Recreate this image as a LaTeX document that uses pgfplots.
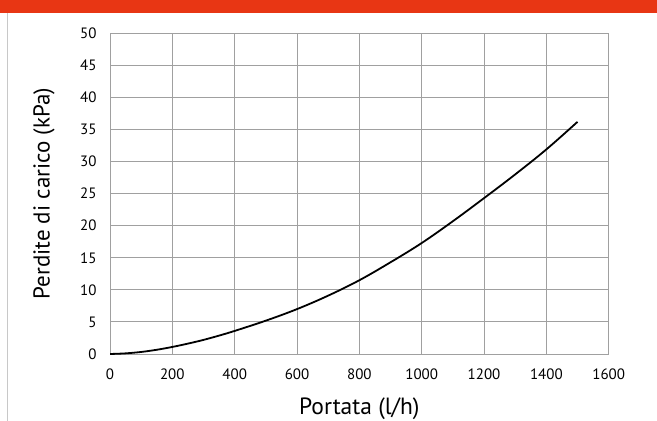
\documentclass[border=0pt]{standalone}
\usepackage{fontspec}
\setmainfont{PT Sans}
\usepackage{pgfplots}
\pgfplotsset{compat=1.18}
\definecolor{topred}{RGB}{232,54,20}
\definecolor{gridgray}{RGB}{160,160,160}
\begin{document}
\begin{tikzpicture}[x=1pt,y=1pt]
\path[use as bounding box] (0,0) rectangle (657,421);
\fill[topred] (0,408) rectangle (657,421);
\draw[color={rgb,255:red,200;green,200;blue,200},line width=1pt] (7,0) -- (7,408);
\begin{axis}[
  at={(110pt,67pt)}, anchor=south west,
  scale only axis, width=498.7pt, height=320.7pt,
  xmin=0, xmax=1600, ymin=0, ymax=50,
  xtick={0,200,...,1600}, ytick={0,5,...,50},
  grid=major,
  major grid style={gridgray, line width=0.9pt},
  axis line style={gridgray, line width=0.9pt},
  tick style={draw=none},
  /pgf/number format/assume math mode=true,
  /pgf/number format/set thousands separator={},
  ticklabel style={font=\fontsize{15}{17}\selectfont, text=black},
  xticklabel style={yshift=-11pt},
  yticklabel style={xshift=-10pt},
  xlabel={Portata (l/h)},
  ylabel={Perdite di carico (kPa)},
  xlabel style={font=\fontsize{23.5}{27}\selectfont, at={(axis description cs:0.5,0)}, anchor=center, yshift=-55pt},
  ylabel style={font=\fontsize{23}{27}\selectfont, at={(axis description cs:0,0.5)}, anchor=center, yshift=66pt},
]
\addplot[black, line width=1.8pt, smooth, tension=0.6] coordinates {
(0,0) (50,0.1) (100,0.32) (150,0.66) (200,1.1) (250,1.62) (300,2.2) (350,2.87)
(400,3.6) (500,5.2) (600,7.0) (700,9.1) (800,11.5) (900,14.3) (1000,17.3)
(1100,20.7) (1200,24.3) (1300,28.0) (1400,31.9) (1500,36.2)
};
\end{axis}
\end{tikzpicture}
\end{document}
